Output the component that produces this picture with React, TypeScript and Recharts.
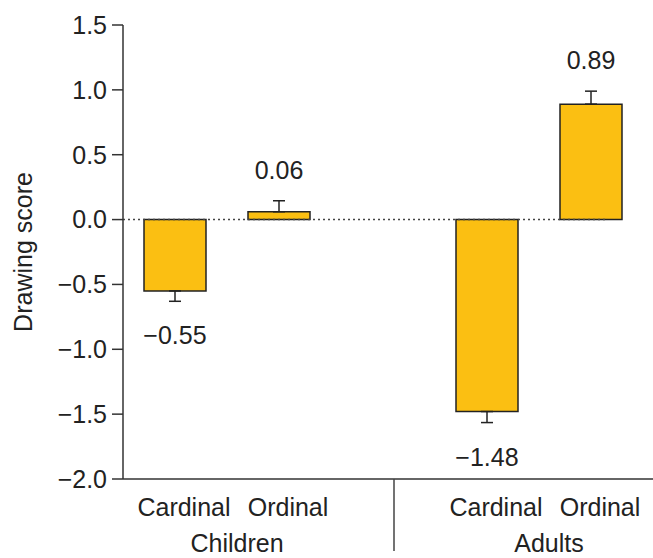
import React from 'react'
import { BarChart, Bar, XAxis, YAxis, ReferenceLine, ErrorBar, LabelList } from 'recharts'

// one empty slot between the two groups
const slotIds = ['c-card', 'c-ord', 'gap', 'a-card', 'a-ord']
const categories = ['Cardinal', 'Ordinal', '', 'Cardinal', 'Ordinal']
const groups = ['Children', '', '', 'Adults', '']
const means = [-0.55, 0.06, null, -1.48, 0.89]
const errors = [0.08, 0.085, null, 0.085, 0.1]
const yTicks = [-2, -1.5, -1, -0.5, 0, 0.5, 1, 1.5]

const FONT = '"Liberation Sans", Arial, Helvetica, sans-serif'
const INK = '#222'
const FILL = '#FBBF12'

const data = slotIds.map((id, i) => ({
  id,
  value: means[i],
  err: means[i] == null ? null : means[i]! < 0 ? [errors[i], 0] : [0, errors[i]],
}))

const fmt = (v: number) => v.toFixed(1).replace('-', '\u2212')

function XTick(props: any) {
  const { x, y, payload } = props
  const i = payload.index
  const half = payload.offset || 52
  const axisY = y - 8
  return (
    <g>
      {categories[i] && (
        <text x={x + 9} y={axisY + 28} textAnchor="middle" dominantBaseline="central"
          fontFamily={FONT} fontSize={25} fill={INK}>
          {categories[i]}
        </text>
      )}
      {groups[i] && (
        <text x={x + half + 10} y={axisY + 64} textAnchor="middle" dominantBaseline="central"
          fontFamily={FONT} fontSize={25} fill={INK}>
          {groups[i]}
        </text>
      )}
      {slotIds[i] === 'gap' && (
        <line x1={x + 11} x2={x + 11} y1={axisY} y2={axisY + 72} stroke="#444" strokeWidth={1.5} />
      )}
    </g>
  )
}

function ValueLabel(props: any) {
  const { x, y, width, height, value } = props
  if (value == null) return null
  const i = means.indexOf(value)
  const top = Math.min(y, y + height)
  const bottom = Math.max(y, y + height)
  const pxPerUnit = Math.abs(height) / Math.abs(value)
  const errPx = (errors[i] || 0) * pxPerUnit
  const cy = value >= 0 ? top - errPx - 31 : bottom + errPx + 34
  return (
    <text x={x + width / 2} y={cy} textAnchor="middle" dominantBaseline="central"
      fontFamily={FONT} fontSize={25} fill={INK}>
      {value.toFixed(2).replace('-', '\u2212')}
    </text>
  )
}

export default function App() {
  return (
    <div style={{ position: 'absolute', left: 0, top: 0, width: 653, height: 558, background: '#fff' }}>
      <BarChart width={653} height={558} data={data}
        margin={{ top: 25, right: 0, bottom: 0, left: 0 }}>
        <XAxis dataKey="id" height={79} interval={0} tickLine={false}
          axisLine={{ stroke: '#333', strokeWidth: 1.5 }}
          padding={{ left: 0, right: 10 }} tick={<XTick />} />
        <YAxis width={123} domain={[-2, 1.5]} ticks={yTicks} tickFormatter={fmt}
          tickSize={11} tickMargin={5}
          axisLine={{ stroke: '#333', strokeWidth: 1.5 }}
          tickLine={{ stroke: '#333', strokeWidth: 1.5 }}
          tick={{ fontFamily: FONT, fontSize: 25, fill: INK }}
          label={{
            content: () => (
              <text x={23} y={252} transform="rotate(-90 23 252)" textAnchor="middle"
                dominantBaseline="central" fontFamily={FONT} fontSize={25} fill={INK}>
                Drawing score
              </text>
            ),
          }} />
        <Bar dataKey="value" barSize={62} fill={FILL} stroke={INK} strokeWidth={1.5}
          isAnimationActive={false}>
          <ErrorBar dataKey="err" width={6} stroke={INK} strokeWidth={1.5} />
          <LabelList dataKey="value" content={<ValueLabel />} />
        </Bar>
        <ReferenceLine y={0} stroke="#444" strokeWidth={1.5} strokeDasharray="2 3"
          shape={(p: any) => (
            <line x1={p.x1} y1={p.y1} x2={p.x2 - 48} y2={p.y2}
              stroke="#444" strokeWidth={1.5} strokeDasharray="2 3" />
          )} />
      </BarChart>
    </div>
  )
}
